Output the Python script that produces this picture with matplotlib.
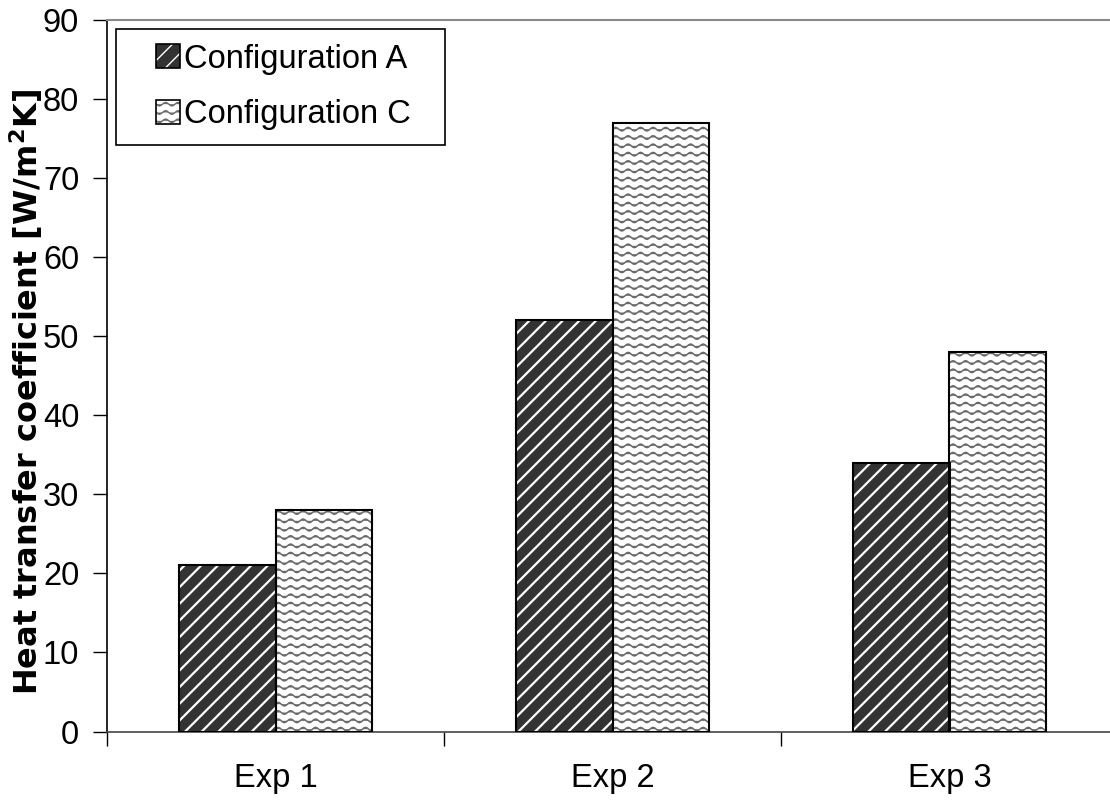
import numpy as np
import matplotlib
matplotlib.use('Agg')
import matplotlib.pyplot as plt
import matplotlib.hatch as mhatch
from matplotlib.path import Path
from matplotlib.patches import Patch, Rectangle
from matplotlib.legend_handler import HandlerTuple, HandlerPatch

categories = ['Exp 1', 'Exp 2', 'Exp 3']
series_names = ['Configuration A', 'Configuration C']
config_a = [21, 52, 34]
config_c = [28, 77, 48]
y_ticks = [0, 10, 20, 30, 40, 50, 60, 70, 80, 90]


# custom hatches: denser diagonal stripes ('/') and wavy rows ('-')
class Stripes(mhatch.HatchPatternBase):
    def __init__(self, hatch, density):
        self.num_lines = 12 if '/' in hatch else 0
        self.num_vertices = (self.num_lines + 1) * 2 if self.num_lines else 0

    def set_vertices_and_codes(self, vertices, codes):
        steps = np.linspace(-0.5, 0.5, self.num_lines + 1)
        vertices[0::2, 0] = 0.0 + steps
        vertices[0::2, 1] = 0.0 - steps
        vertices[1::2, 0] = 1.0 + steps
        vertices[1::2, 1] = 1.0 - steps
        codes[0::2] = Path.MOVETO
        codes[1::2] = Path.LINETO


class Waves(mhatch.HatchPatternBase):
    rows = 12
    periods = 8
    pts = 65

    def __init__(self, hatch, density):
        self.on = '-' in hatch
        self.num_vertices = self.rows * self.pts if self.on else 0

    def set_vertices_and_codes(self, vertices, codes):
        t = np.linspace(0, 1, self.pts)
        for i in range(self.rows):
            y0 = (i + 0.5) / self.rows
            sl = slice(i * self.pts, (i + 1) * self.pts)
            vertices[sl, 0] = t
            vertices[sl, 1] = y0 + 0.018 * np.sin(2 * np.pi * self.periods * t)
            codes[sl] = Path.LINETO
            codes[i * self.pts] = Path.MOVETO


mhatch._hatch_types = [Stripes, Waves]

plt.rcParams['font.family'] = ['Liberation Sans', 'DejaVu Sans']

STRIPE_LW = 1.6
WAVE_LW = 1.1
WAVE_COLOR = '#6a6a6a'

fig = plt.figure(figsize=(11.1, 8.02), dpi=100)
ax = fig.add_axes([107 / 1110, 1 - 731.5 / 802, 1011 / 1110, 711.5 / 802])

x = np.arange(len(categories))
w = 0.2875

# base fills, hatch overlays, then black outlines on top
ax.bar(x - w / 2, config_a, w, color='#333333', linewidth=0, zorder=2)
ax.bar(x + w / 2, config_c, w, color='white', linewidth=0, zorder=2)
with plt.rc_context({'hatch.linewidth': STRIPE_LW}):
    ax.bar(x - w / 2, config_a, w, facecolor='none', edgecolor='white', linewidth=0, hatch='/', zorder=3)
with plt.rc_context({'hatch.linewidth': WAVE_LW}):
    ax.bar(x + w / 2, config_c, w, facecolor='none', edgecolor=WAVE_COLOR, linewidth=0, hatch='-', zorder=3)
ax.bar(x - w / 2, config_a, w, facecolor='none', edgecolor='black', linewidth=1.5, zorder=4)
ax.bar(x + w / 2, config_c, w, facecolor='none', edgecolor='black', linewidth=1.5, zorder=4)

ax.set_xlim(-0.5, len(categories) - 0.5)
ax.set_ylim(0, 90)
ax.set_yticks(y_ticks)
ax.set_xticks(x)
ax.set_xticklabels(categories)
ax.set_xticks(np.arange(len(categories) + 1) - 0.5, minor=True)

ax.tick_params(axis='y', direction='out', length=10, width=1, pad=10, labelsize=23.5)
ax.tick_params(axis='x', which='major', length=0, pad=23, labelsize=23.5)
ax.tick_params(axis='x', which='minor', direction='out', length=10, width=1)

ax.spines['right'].set_visible(False)
ax.spines['top'].set_color('#8a8a8a')
ax.spines['top'].set_linewidth(1.5)
ax.spines['left'].set_linewidth(1.2)
ax.spines['bottom'].set_linewidth(1.2)
ax.spines['bottom'].set_color('#444444')

ax.set_ylabel(r'Heat transfer coefficient [W/m$\mathregular{^2}$K]', fontsize=23,
              fontweight='bold', family=['DejaVu Sans'])
ax.yaxis.set_label_coords(-0.061, 0.477)


# small square legend keys sitting at the right end of the handle box
def square(legend, orig_handle, xdescent, ydescent, width, height, fontsize):
    s = 17
    return Rectangle((-xdescent + width - s, -ydescent + (height - s) / 2), s, s)


with plt.rc_context({'hatch.linewidth': STRIPE_LW}):
    h_a = (Patch(facecolor='#333333', linewidth=0),
           Patch(facecolor='none', edgecolor='white', linewidth=0, hatch='/'),
           Patch(facecolor='none', edgecolor='black', linewidth=1.2))
with plt.rc_context({'hatch.linewidth': WAVE_LW}):
    h_c = (Patch(facecolor='white', linewidth=0),
           Patch(facecolor='none', edgecolor=WAVE_COLOR, linewidth=0, hatch='-'),
           Patch(facecolor='none', edgecolor='black', linewidth=1.2))

leg = ax.legend([h_a, h_c], series_names,
                handler_map={tuple: HandlerTuple(ndivide=1), Patch: HandlerPatch(patch_func=square)},
                loc='upper left', mode='expand',
                bbox_to_anchor=(116 / 1110, 0, (445 - 116) / 1110, 1 - 29 / 802),
                bbox_transform=fig.transFigure, borderaxespad=0, fontsize=23.5,
                handlelength=1.5, handleheight=0.75, handletextpad=0.12,
                labelspacing=0.76, borderpad=0.45, fancybox=False, framealpha=1)
leg.get_frame().set_edgecolor('black')
leg.get_frame().set_linewidth(1.2)

fig.savefig('out.png', dpi=100)
